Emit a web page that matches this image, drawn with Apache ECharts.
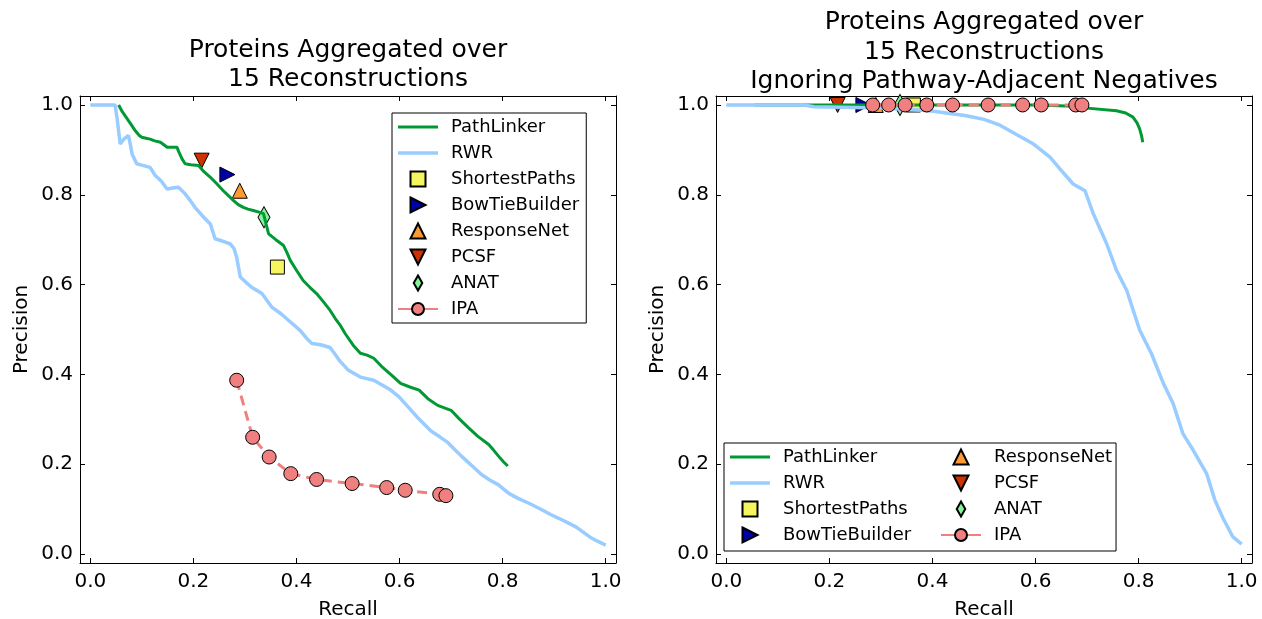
<!DOCTYPE html>
<html>
<head>
<meta charset="utf-8">
<script src="https://cdn.jsdelivr.net/npm/echarts@6/dist/echarts.min.js"></script>
<style>
  html, body { margin: 0; padding: 0; background: #fff; }
  #chart { width: 1262px; height: 619px; }
</style>
</head>
<body>
<div id="chart"></div>
<script>
// Precision-recall curves for pathway reconstruction methods.
const FONT = 'DejaVu Sans';

const tickValues = [0, 0.2, 0.4, 0.6, 0.8, 1.0];
const legendOrder = ['PathLinker', 'RWR', 'ShortestPaths', 'BowTieBuilder', 'ResponseNet', 'PCSF', 'ANAT', 'IPA'];

// PathLinker curve, all negatives: [recall, precision]
const pathLinkerAll = [
  [0.055, 1.0], [0.062, 0.985], [0.068, 0.975], [0.08, 0.955], [0.087, 0.943], [0.095, 0.932],
  [0.1, 0.928], [0.108, 0.926], [0.116, 0.924], [0.125, 0.92], [0.136, 0.917], [0.142, 0.912],
  [0.149, 0.906], [0.16, 0.906], [0.168, 0.906], [0.172, 0.895], [0.178, 0.88], [0.184, 0.869],
  [0.195, 0.867], [0.21, 0.865], [0.22, 0.852], [0.233, 0.839], [0.245, 0.825], [0.258, 0.809],
  [0.268, 0.798], [0.278, 0.787], [0.287, 0.778], [0.297, 0.772], [0.306, 0.768], [0.316, 0.765],
  [0.326, 0.762], [0.336, 0.758], [0.341, 0.735], [0.346, 0.713], [0.36, 0.7], [0.375, 0.687],
  [0.382, 0.67], [0.388, 0.654], [0.4, 0.632], [0.413, 0.609], [0.426, 0.594], [0.439, 0.58],
  [0.452, 0.562], [0.465, 0.543], [0.475, 0.525], [0.484, 0.511], [0.495, 0.49], [0.51, 0.465],
  [0.524, 0.447], [0.537, 0.443], [0.55, 0.436], [0.565, 0.418], [0.585, 0.398], [0.602, 0.38],
  [0.62, 0.372], [0.638, 0.365], [0.655, 0.346], [0.674, 0.331], [0.7, 0.32], [0.715, 0.302],
  [0.733, 0.282], [0.752, 0.262], [0.773, 0.244], [0.782, 0.232], [0.792, 0.218], [0.802, 0.205],
  [0.81, 0.196]
];

// RWR curve, all negatives
const rwrAll = [
  [0, 1.0], [0.048, 1.0], [0.052, 0.97], [0.058, 0.913], [0.066, 0.925], [0.074, 0.932],
  [0.078, 0.91], [0.081, 0.891], [0.09, 0.869], [0.1, 0.866], [0.116, 0.861], [0.126, 0.843],
  [0.138, 0.83], [0.149, 0.813], [0.16, 0.815], [0.171, 0.817], [0.184, 0.802], [0.194, 0.787],
  [0.203, 0.772], [0.22, 0.75], [0.233, 0.735], [0.242, 0.702], [0.256, 0.697], [0.271, 0.691],
  [0.279, 0.68], [0.284, 0.661], [0.291, 0.617], [0.302, 0.605], [0.313, 0.594], [0.333, 0.58],
  [0.352, 0.55], [0.37, 0.535], [0.39, 0.515], [0.407, 0.498], [0.42, 0.48], [0.43, 0.469],
  [0.447, 0.466], [0.465, 0.46], [0.475, 0.445], [0.484, 0.43], [0.5, 0.41], [0.524, 0.394],
  [0.55, 0.387], [0.567, 0.376], [0.583, 0.365], [0.599, 0.35], [0.617, 0.327], [0.635, 0.304],
  [0.648, 0.289], [0.661, 0.274], [0.678, 0.261], [0.694, 0.248], [0.707, 0.233], [0.72, 0.218],
  [0.74, 0.197], [0.759, 0.177], [0.775, 0.165], [0.792, 0.154], [0.812, 0.135], [0.83, 0.124],
  [0.851, 0.113], [0.877, 0.098], [0.893, 0.088], [0.91, 0.079], [0.926, 0.07], [0.943, 0.06],
  [0.955, 0.05], [0.969, 0.038], [0.985, 0.028], [1.0, 0.02]
];

// PathLinker curve, ignoring pathway-adjacent negatives
const pathLinkerIgnoring = [
  [0.055, 1.0], [0.6, 1.0], [0.66, 0.998], [0.7, 0.993], [0.757, 0.987], [0.775, 0.982],
  [0.789, 0.973], [0.797, 0.96], [0.802, 0.947], [0.806, 0.93], [0.808, 0.917]
];

// RWR curve, ignoring pathway-adjacent negatives
const rwrIgnoring = [
  [0, 1.0], [0.15, 1.0], [0.17, 0.996], [0.3, 0.993], [0.38, 0.988], [0.402, 0.986],
  [0.466, 0.976], [0.5, 0.968], [0.531, 0.955], [0.57, 0.93], [0.596, 0.913], [0.628, 0.884],
  [0.647, 0.858], [0.673, 0.824], [0.696, 0.809], [0.712, 0.758], [0.738, 0.691], [0.757, 0.632],
  [0.777, 0.587], [0.802, 0.499], [0.825, 0.446], [0.848, 0.38], [0.867, 0.335], [0.886, 0.268],
  [0.906, 0.231], [0.932, 0.179], [0.948, 0.12], [0.964, 0.079], [0.983, 0.038], [1.0, 0.022]
];

// Single-point methods
const methodNames = ['ShortestPaths', 'BowTieBuilder', 'ResponseNet', 'PCSF', 'ANAT'];
const methodRecall = [0.363, 0.266, 0.29, 0.216, 0.337];
const methodPrecisionAll = [0.639, 0.845, 0.809, 0.876, 0.75];
const methodPrecisionIgnoring = [1.0, 1.0, 1.0, 1.0, 1.0];

// IPA at increasing network sizes
const ipaRecall = [0.284, 0.315, 0.347, 0.389, 0.439, 0.508, 0.575, 0.611, 0.678, 0.69];
const ipaPrecisionAll = [0.387, 0.26, 0.216, 0.179, 0.166, 0.157, 0.148, 0.142, 0.133, 0.13];
const ipaPrecisionIgnoring = [1.0, 1.0, 1.0, 1.0, 1.0, 1.0, 1.0, 1.0, 1.0, 1.0];

const titleAll = 'Proteins Aggregated over\n15 Reconstructions';
const titleIgnoring = 'Proteins Aggregated over\n15 Reconstructions\nIgnoring Pathway-Adjacent Negatives';

// Marker shapes (paths keep their proportions inside the legend)
const methodStyle = {
  ShortestPaths: { symbol: 'path://M0,0L10,0L10,10L0,10Z', size: 14, color: '#f5f55f' },
  BowTieBuilder: { symbol: 'path://M0,0L10,5L0,10Z', size: 15, color: '#0000a8' },
  ResponseNet:   { symbol: 'path://M5,0L10,10L0,10Z', size: 15, color: '#ff9933' },
  PCSF:          { symbol: 'path://M0,0L10,0L5,10Z', size: 15, color: '#cc3300' },
  ANAT:          { symbol: 'path://M6,0L12,10.5L6,21L0,10.5Z', size: [12, 21], color: '#80f59c' }
};

const lineIcons = {
  PathLinker: 'path://M0,0L40,0L40,3L0,3Z',
  RWR: 'path://M0,0L40,0L40,3.5L0,3.5Z'
};

const textBase = { fontFamily: FONT, color: '#000' };

function xAxisPair(gridIndex) {
  const common = {
    type: 'value', gridIndex, min: -0.02, max: 1.02,
    axisLine: { onZero: false, lineStyle: { color: '#000', width: 1 } },
    axisTick: { inside: true, length: 5, customValues: tickValues, lineStyle: { color: '#000' } },
    splitLine: { show: false }
  };
  return [
    Object.assign({}, common, {
      position: 'bottom',
      axisLabel: Object.assign({ customValues: tickValues, fontSize: 20, margin: 9,
        formatter: v => v.toFixed(1) }, textBase),
      name: 'Recall', nameLocation: 'middle', nameGap: 37,
      nameTextStyle: Object.assign({ fontSize: 20 }, textBase)
    }),
    Object.assign({}, common, { position: 'top', axisLabel: { show: false } })
  ];
}

function yAxisPair(gridIndex) {
  const common = {
    type: 'value', gridIndex, min: -0.02, max: 1.02,
    axisLine: { onZero: false, lineStyle: { color: '#000', width: 1 } },
    axisTick: { inside: true, length: 5, customValues: tickValues, lineStyle: { color: '#000' } },
    splitLine: { show: false }
  };
  return [
    Object.assign({}, common, {
      position: 'left',
      axisLabel: Object.assign({ customValues: tickValues, fontSize: 20, margin: 7,
        formatter: v => v.toFixed(1) }, textBase),
      name: 'Precision', nameLocation: 'middle', nameGap: 48,
      nameTextStyle: Object.assign({ fontSize: 20 }, textBase)
    }),
    Object.assign({}, common, { position: 'right', axisLabel: { show: false } })
  ];
}

function markerSeries(name, point, ax) {
  const st = methodStyle[name];
  return Object.assign({
    name, type: 'scatter', data: [point],
    symbol: st.symbol, symbolSize: st.size, color: st.color,
    itemStyle: { color: st.color, borderColor: '#000', borderWidth: 1, opacity: 1 }
  }, ax);
}

function panelSeries(axisIndex, plCurve, rwrCurve, methodPrecision, ipaPrecision) {
  const list = [];
  const ax = { xAxisIndex: axisIndex, yAxisIndex: axisIndex };
  list.push(Object.assign({
    name: 'PathLinker', type: 'line', data: plCurve, symbol: 'none',
    color: '#009933', lineStyle: { color: '#009933', width: 3 }
  }, ax));
  list.push(Object.assign({
    name: 'RWR', type: 'line', data: rwrCurve, symbol: 'none',
    color: '#99ccff', lineStyle: { color: '#99ccff', width: 3.5 }
  }, ax));
  ['BowTieBuilder', 'ResponseNet', 'PCSF', 'ANAT'].forEach(name => {
    const i = methodNames.indexOf(name);
    list.push(markerSeries(name, [methodRecall[i], methodPrecision[i]], ax));
  });
  list.push(Object.assign({
    name: 'IPA', type: 'line', data: ipaRecall.map((r, i) => [r, ipaPrecision[i]]),
    symbol: 'circle', symbolSize: 14, showSymbol: true, color: '#f08080',
    lineStyle: { color: '#f08080', width: 3, type: [10, 6] },
    itemStyle: { color: '#f08080', borderColor: '#000', borderWidth: 1, opacity: 1 }
  }, ax));
  const sp = methodNames.indexOf('ShortestPaths');
  list.push(markerSeries('ShortestPaths', [methodRecall[sp], methodPrecision[sp]], ax));
  return list;
}

function legendItem(name, extra) {
  const item = Object.assign({ name }, extra || {});
  if (lineIcons[name]) item.icon = lineIcons[name];
  return item;
}

const legendText = Object.assign({ fontSize: 18, lineHeight: 18, padding: [0, 0, 0, 8] }, textBase);
const legendCommon = {
  orient: 'vertical', itemGap: 8, itemWidth: 40, itemHeight: 15,
  borderColor: '#000', borderWidth: 1, borderRadius: 0, backgroundColor: '#fff',
  selectedMode: false, textStyle: legendText, symbolKeepAspect: true,
  lineStyle: { type: 'solid' }
};

const chart = echarts.init(document.getElementById('chart'), null, { renderer: 'canvas' });
chart.setOption({
  animation: false,
  backgroundColor: '#fff',
  title: [
    { text: titleAll, left: 348, top: 36, textAlign: 'center', padding: 0,
      textStyle: Object.assign({ fontSize: 25, fontWeight: 'normal', lineHeight: 29 }, textBase) },
    { text: titleIgnoring, left: 984, top: 8, textAlign: 'center', padding: 0,
      textStyle: Object.assign({ fontSize: 25, fontWeight: 'normal', lineHeight: 29.5 }, textBase) }
  ],
  grid: [
    { left: 80, top: 96, width: 536, height: 467, containLabel: false, outerBoundsMode: 'none' },
    { left: 716, top: 96, width: 536, height: 467, containLabel: false, outerBoundsMode: 'none' }
  ],
  xAxis: xAxisPair(0).concat(xAxisPair(1)),
  yAxis: yAxisPair(0).concat(yAxisPair(1)),
  legend: [
    Object.assign({}, legendCommon, {
      left: 392, top: 113, padding: [5, 7, 5, 5],
      data: legendOrder.map(name => legendItem(name))
    }),
    Object.assign({}, legendCommon, {
      left: 724, top: 443, padding: [5, 4, 7, 6], height: 115,
      data: legendOrder.map((name, i) => legendItem(name, i < 4 ? { textStyle: { width: 150 } } : null))
    })
  ],
  series: panelSeries(0, pathLinkerAll, rwrAll, methodPrecisionAll, ipaPrecisionAll)
    .concat(panelSeries(2, pathLinkerIgnoring, rwrIgnoring, methodPrecisionIgnoring, ipaPrecisionIgnoring))
});
</script>
</body>
</html>
